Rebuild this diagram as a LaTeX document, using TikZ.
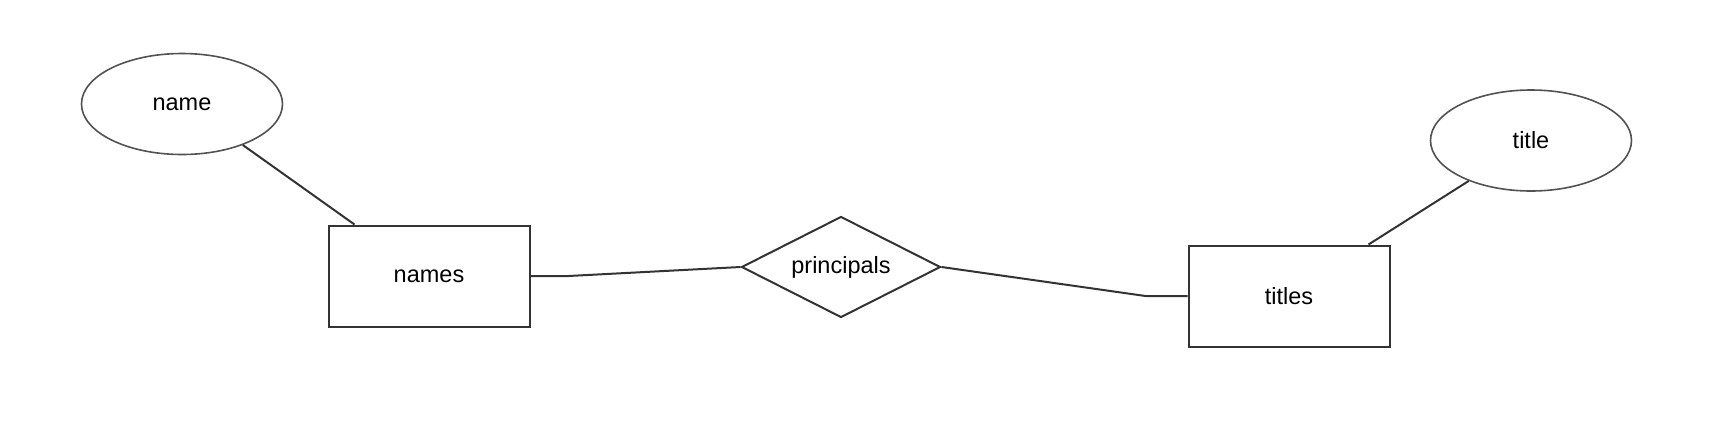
\documentclass[tikz,border=0pt]{standalone}
\usepackage{fontspec}
\setmainfont{Liberation Sans}
\usetikzlibrary{shapes.geometric,calc}
\definecolor{linec}{HTML}{333333}
\tikzset{
  every node/.style={font=\fontsize{23.5}{28}\selectfont, text=black},
  entity/.style={draw=linec, line width=2pt, rectangle, minimum width=201pt, minimum height=101pt, inner sep=0pt},
  attr/.style={draw=linec!85, line width=1.6pt, ellipse, minimum width=201pt, minimum height=101pt, inner sep=0pt},
  rel/.style={draw=linec, line width=2pt, diamond, aspect=2, minimum width=199pt, minimum height=101pt, inner sep=0pt},
  conn/.style={draw=linec, line width=2pt}
}
\begin{document}
\begin{tikzpicture}[x=1pt,y=-1pt]
\useasboundingbox (0,0) rectangle (1730,424);
\node[attr] (name) at (182,104) {name};
\node[entity] (names) at (429,276) {names};
\node[rel] (principals) at (841,267) {principals};
\node[entity] (titles) at (1289,296) {titles};
\node[attr] (title) at (1531,140.5) {title};
\draw[conn] (name.-34.5) -- ($(names.north west)+(27,0)$);
\draw[conn] (names.east) -- ++(38,0) -- (principals.west);
\draw[conn] (principals.east) -- ($(titles.west)+(-42,0)$) -- (titles.west);
\draw[conn] (title.-147.5) -- ($(titles.north east)+(-22,0)$);
\end{tikzpicture}
\end{document}
